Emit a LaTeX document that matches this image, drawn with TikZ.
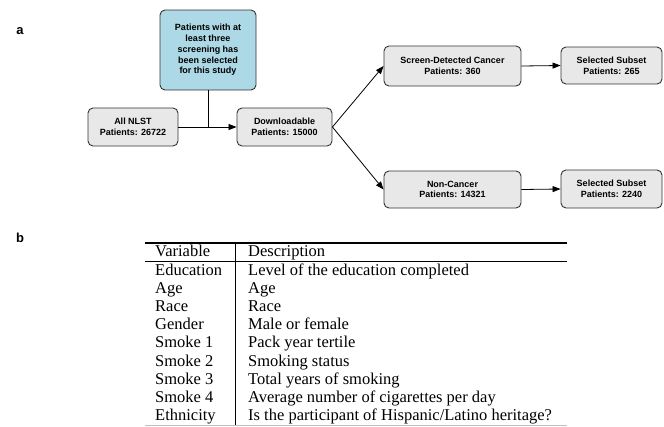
\documentclass[tikz,border=0pt]{standalone}
\usepackage{fontspec}
\setmainfont{Liberation Serif}
\setsansfont{Liberation Sans}
\usetikzlibrary{arrows.meta}
\definecolor{boxgray}{HTML}{E8E8E8}
\definecolor{boxteal}{HTML}{ADD8E6}
\definecolor{edgecol}{HTML}{333333}
\tikzset{
  flowbox/.style={draw=edgecol, line width=0.9pt, rounded corners=5pt, fill=boxgray,
    align=center, inner sep=0pt, font=\sffamily\bfseries\fontsize{9}{10.8}\selectfont},
  flowarrow/.style={draw=black, line width=0.8pt, -{Triangle[length=8pt,width=6pt]}},
  flowline/.style={draw=black, line width=0.8pt},
  panel/.style={font=\sffamily\bfseries\fontsize{13}{15}\selectfont},
  tabtext/.style={anchor=base west, inner sep=0pt, font=\fontsize{16.5}{18}\selectfont},
}
\begin{document}
\begin{tikzpicture}[x=1pt,y=-1pt]
\useasboundingbox (0,0) rectangle (664,426);
% panel labels
\node[panel] (la) at (20,31) {a};
\node[panel] (lb) at (20,238) {b};
% flowchart
\node[flowbox, fill=boxteal, minimum width=96pt, minimum height=80pt] (teal) at (208,50)
  {Patients with at\\least three\\screening has\\been selected\\for this study};
\node[flowbox, minimum width=90pt, minimum height=38pt] (nlst) at (133,127) {All NLST\\Patients: 26722};
\node[flowbox, minimum width=95pt, minimum height=38pt] (down) at (284.5,127) {Downloadable\\Patients: 15000};
\node[flowbox, minimum width=137pt, minimum height=40pt] (scd) at (452.5,66) {Screen-Detected Cancer\\Patients: 360};
\node[flowbox, minimum width=101pt, minimum height=37pt] (sel1) at (611.5,65.5) {Selected Subset\\Patients: 265};
\node[flowbox, minimum width=137pt, minimum height=37pt] (non) at (452.5,189.5) {Non-Cancer\\Patients: 14321};
\node[flowbox, minimum width=101pt, minimum height=38pt] (sel2) at (611.5,189) {Selected Subset\\Patients: 2240};
\coordinate (j) at (208,127);
\draw[flowline] (teal.south) -- (j);
\draw[flowarrow] (nlst.east) -- (down.west);
\draw[flowarrow] (down.east) -- (scd.west);
\draw[flowarrow] (down.east) -- (non.west);
\draw[flowarrow] (scd.east) -- (sel1.west);
\draw[flowarrow] (non.east) -- (sel2.west);
% table
\coordinate (tl) at (145,243);
\coordinate (tr) at (567,243);
\coordinate (hl) at (145,261);
\coordinate (hr) at (567,261);
\coordinate (bl) at (145,425);
\coordinate (br) at (567,425);
\coordinate (vt) at (235,243);
\coordinate (vb) at (235,426);
\draw[line width=1.2pt] (tl) -- (tr);
\draw[line width=0.7pt] (hl) -- (hr);
\draw[line width=0.7pt] (vt) -- (vb);
\draw[line width=0.6pt, black!25] (bl) -- (br);
\node[tabtext] (h1) at (155,256) {Variable};
\node[tabtext] (h2) at (248,256) {Description};
\foreach \v/\d [count=\i from 0] in {Education/Level of the education completed,
  Age/Age, Race/Race, Gender/Male or female, Smoke 1/Pack year tertile,
  Smoke 2/Smoking status, Smoke 3/Total years of smoking,
  Smoke 4/Average number of cigarettes per day,
  Ethnicity/Is the participant of Hispanic\slash Latino heritage?}{
  \node[tabtext] (v\i) at (155,275+18.2*\i) {\v};
  \node[tabtext] (d\i) at (248,275+18.2*\i) {\d};
}
\end{tikzpicture}
\end{document}
